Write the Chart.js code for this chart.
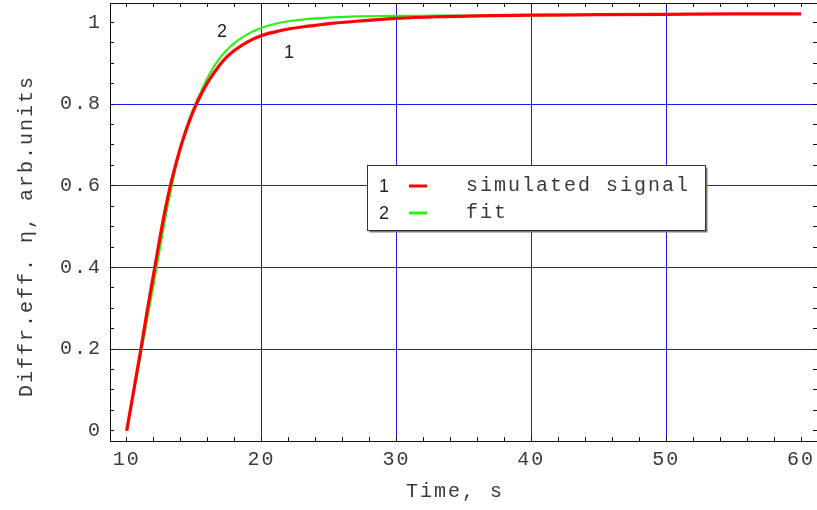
<!DOCTYPE html>
<html>
<head>
<meta charset="utf-8">
<script src="https://cdn.jsdelivr.net/npm/chart.js@4/dist/chart.umd.min.js"></script>
<style>
  body { margin: 0; background: #fff; }
  canvas { display: block; }
</style>
</head>
<body>
<canvas id="chart" width="817" height="510"></canvas>
<script>
// curve 1 - simulated signal
const simTime = [10, 10.5, 11, 11.5, 12, 12.5, 13, 13.5, 14, 14.5, 15, 15.5, 16, 16.5, 17, 17.5, 18, 19, 20, 21, 22, 23, 24, 25, 27, 30, 33, 36, 40, 45, 50, 55, 60];
const simEta = [0, 0.095, 0.19, 0.29, 0.385, 0.48, 0.565, 0.635, 0.695, 0.745, 0.788, 0.823, 0.853, 0.878, 0.9, 0.918, 0.932, 0.953, 0.968, 0.977, 0.984, 0.989, 0.993, 0.997, 1.003, 1.01, 1.014, 1.016, 1.018, 1.019, 1.02, 1.021, 1.021];

// curve 2 - fit
const fitTime = [10, 10.5, 11, 11.5, 12, 12.5, 13, 13.5, 14, 14.5, 15, 15.5, 16, 16.5, 17, 17.5, 18, 19, 20, 21, 22, 23, 24, 25, 27, 30, 33, 36, 39, 42.6];
const fitEta = [0, 0.09, 0.18, 0.27, 0.36, 0.455, 0.545, 0.625, 0.695, 0.75, 0.793, 0.83, 0.865, 0.894, 0.917, 0.935, 0.95, 0.972, 0.987, 0.997, 1.003, 1.007, 1.01, 1.012, 1.015, 1.016, 1.017, 1.017, 1.017, 1.018];

const seriesNames = ['simulated signal', 'fit'];
const seriesTags = ['1', '2'];

// tick labels
const xLabels = [10, 20, 30, 40, 50, 60];
const yLabels = [0, 0.2, 0.4, 0.6, 0.8, 1];
const xGridAt = [20, 30, 40, 50];
const yGridAt = [0.2, 0.4, 0.6, 0.8];

// where the "1" / "2" tags sit, in data units
const tagTime = [22.03, 17.07];
const tagEta = [0.925, 0.977];

const MONO = '"Liberation Mono", "Courier New", monospace';
const SANS = '"Liberation Sans", Arial, sans-serif';
const BLUE = 'rgb(25,25,245)';
const INK = '#222';
const TXT = '#3a3a3a';

function toPoints(xs, ys) {
  return xs.map((x, i) => ({ x: x, y: ys[i] }));
}

function near(list, v) {
  return list.some(g => Math.abs(g - v) < 1e-6);
}

// fixed box sizes, no overhang padding from the labels
function fixBox(w, h) {
  return s => {
    if (w !== null) s.width = w;
    if (h !== null) s.height = h;
    s.paddingLeft = 0; s.paddingRight = 0;
    s.paddingTop = 0; s.paddingBottom = 0;
  };
}

// Mathematica-like courier spacing
const spacing = {
  id: 'spacing',
  beforeUpdate(chart) { chart.ctx.letterSpacing = '2px'; },
  beforeDraw(chart) { chart.ctx.letterSpacing = '2px'; }
};

// axis titles, curve tags and the boxed legend
const extras = {
  id: 'extras',
  afterDraw(chart) {
    const ctx = chart.ctx;
    const xs = chart.scales.x, ys = chart.scales.y;
    ctx.save();

    // curve tags
    ctx.letterSpacing = '0px';
    ctx.fillStyle = INK;
    ctx.font = '18px ' + SANS;
    ctx.textAlign = 'center';
    ctx.textBaseline = 'middle';
    seriesTags.forEach((t, i) => {
      ctx.fillText(t, xs.getPixelForValue(tagTime[i]), ys.getPixelForValue(tagEta[i]));
    });

    // axis titles
    ctx.letterSpacing = '2px';
    ctx.fillStyle = TXT;
    ctx.font = '20px ' + MONO;
    ctx.textAlign = 'center';
    ctx.textBaseline = 'alphabetic';
    ctx.fillText('Time, s', 455, 497);
    ctx.save();
    ctx.translate(32, 236);
    ctx.rotate(-Math.PI / 2);
    ctx.fillText('Diffr.eff. \u03b7, arb.units', 0, 0);
    ctx.restore();

    // legend box
    const bx = 367.5, by = 165.5, bw = 338, bh = 65;
    ctx.fillStyle = '#777';
    ctx.fillRect(bx + 2, by + 2, bw, bh);
    ctx.fillStyle = '#fff';
    ctx.fillRect(bx, by, bw, bh);
    ctx.strokeStyle = '#333';
    ctx.lineWidth = 1;
    ctx.strokeRect(bx, by, bw, bh);

    chart.data.datasets.forEach((ds, i) => {
      const cy = 186 + i * 27;
      ctx.letterSpacing = '0px';
      ctx.fillStyle = INK;
      ctx.font = '18px ' + SANS;
      ctx.textAlign = 'left';
      ctx.textBaseline = 'middle';
      ctx.fillText(seriesTags[i], 379, cy + 1);
      ctx.strokeStyle = ds.borderColor;
      ctx.lineWidth = 3;
      ctx.beginPath();
      ctx.moveTo(409, cy);
      ctx.lineTo(427, cy);
      ctx.stroke();
      ctx.letterSpacing = '2px';
      ctx.fillStyle = TXT;
      ctx.font = '20px ' + MONO;
      ctx.fillText(ds.label, 466, cy);
    });
    ctx.restore();
  }
};

const xRange = { min: 8.76, max: 61.18 };
const yRange = { min: -0.0252, max: 1.0477 };

new Chart(document.getElementById('chart'), {
  type: 'line',
  data: {
    datasets: [{
      label: seriesNames[0],
      data: toPoints(simTime, simEta),
      borderColor: 'rgb(255,0,0)',
      borderWidth: 3.2,
      pointRadius: 0,
      cubicInterpolationMode: 'monotone',
      xAxisID: 'x',
      yAxisID: 'y'
    }, {
      label: seriesNames[1],
      data: toPoints(fitTime, fitEta),
      borderColor: 'rgb(45,240,20)',
      borderWidth: 2.2,
      pointRadius: 0,
      cubicInterpolationMode: 'monotone',
      xAxisID: 'x',
      yAxisID: 'y'
    }]
  },
  options: {
    responsive: false,
    animation: false,
    events: [],
    layout: { padding: 0 },
    plugins: { legend: { display: false }, tooltip: { enabled: false } },
    scales: {
      x: {
        type: 'linear', position: 'bottom', min: xRange.min, max: xRange.max,
        afterFit: fixBox(null, 69),
        border: { display: true, color: '#111', width: 1 },
        grid: {
          color: c => (c.tick && near(xGridAt, c.tick.value)) ? BLUE : 'rgba(0,0,0,0)',
          tickColor: '#111', tickLength: -4, lineWidth: 1
        },
        ticks: {
          stepSize: 2, includeBounds: false, autoSkip: false, maxRotation: 0, minRotation: 0,
          padding: 11, color: TXT, font: { family: MONO, size: 20 },
          callback: v => near(xLabels, v) ? String(v) : ''
        }
      },
      y: {
        type: 'linear', position: 'left', min: yRange.min, max: yRange.max,
        afterFit: fixBox(110, null),
        border: { display: true, color: '#111', width: 1 },
        grid: {
          color: c => (c.tick && near(yGridAt, c.tick.value)) ? BLUE : 'rgba(0,0,0,0)',
          tickColor: '#111', tickLength: -4, lineWidth: 1
        },
        ticks: {
          stepSize: 0.05, includeBounds: false, autoSkip: false,
          padding: 12, color: TXT, font: { family: MONO, size: 20 },
          callback: v => {
            if (!near(yLabels, v)) return '';
            return (Math.abs(v) < 1e-9 || Math.abs(v - 1) < 1e-9) ? String(Math.round(v)) : v.toFixed(1);
          }
        }
      },
      xTop: {
        type: 'linear', position: 'top', min: xRange.min, max: xRange.max,
        afterFit: fixBox(null, 3),
        border: { display: true, color: '#111', width: 1 },
        grid: { drawOnChartArea: false, tickColor: '#111', tickLength: -4 },
        ticks: { display: false, stepSize: 2, includeBounds: false, autoSkip: false }
      },
      yRight: {
        type: 'linear', position: 'right', min: yRange.min, max: yRange.max,
        afterFit: fixBox(0, null),
        border: { display: false },
        grid: { drawOnChartArea: false, tickColor: '#111', tickLength: -4 },
        ticks: { display: false, stepSize: 0.05, includeBounds: false, autoSkip: false }
      }
    }
  },
  plugins: [spacing, extras]
});
</script>
</body>
</html>
